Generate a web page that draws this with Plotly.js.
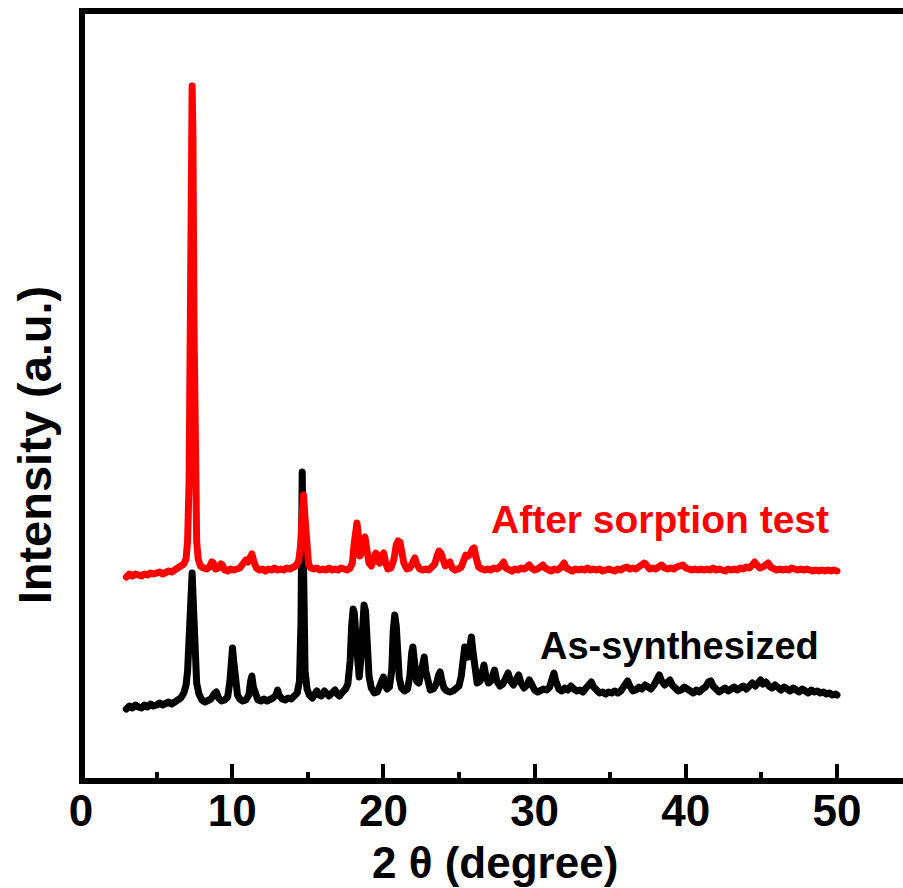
<!DOCTYPE html>
<html>
<head>
<meta charset="utf-8">
<script src="https://cdn.plot.ly/plotly-3.0.1.min.js"></script>
<style>
html,body{margin:0;padding:0;background:#fff;overflow:hidden}
#chart{width:903px;height:888px}
path.js-line{stroke-linejoin:round;stroke-linecap:round}
</style>
</head>
<body>
<div id="chart"></div>
<script>
// As-synthesized pattern (2θ in degrees, intensity in arbitrary units)
const asSynthX = [3.0,3.2,3.4,3.6,3.8,4.0,4.2,4.4,4.6,4.8,5.0,5.2,5.4,5.6,5.8,6.0,6.2,6.4,6.6,6.8,6.95,7.05,7.15,7.25,7.35,7.45,7.55,7.65,7.8,8.0,8.2,8.4,8.6,8.8,8.95,9.1,9.3,9.5,9.7,9.85,9.95,10.02,10.1,10.2,10.35,10.5,10.7,10.9,11.1,11.22,11.3,11.4,11.55,11.7,11.9,12.1,12.3,12.5,12.7,12.9,13.0,13.1,13.3,13.5,13.7,13.9,14.1,14.3,14.45,14.55,14.63,14.72,14.82,14.95,15.1,15.3,15.5,15.6,15.75,15.9,16.1,16.25,16.4,16.6,16.8,16.95,17.1,17.3,17.5,17.65,17.8,17.9,18.0,18.08,18.2,18.3,18.4,18.5,18.62,18.72,18.82,18.95,19.05,19.2,19.4,19.6,19.8,19.92,20.0,20.1,20.25,20.4,20.55,20.65,20.75,20.85,20.95,21.05,21.2,21.4,21.6,21.75,21.87,21.95,22.05,22.2,22.35,22.5,22.62,22.7,22.8,22.95,23.1,23.3,23.5,23.65,23.75,23.85,24.0,24.2,24.4,24.6,24.8,25.0,25.15,25.28,25.38,25.48,25.6,25.72,25.82,25.92,26.05,26.2,26.4,26.55,26.65,26.78,26.95,27.1,27.25,27.35,27.5,27.7,27.9,28.1,28.25,28.4,28.6,28.8,28.95,29.1,29.3,29.5,29.65,29.8,30.0,30.2,30.4,30.6,30.8,31.0,31.15,31.28,31.4,31.6,31.8,32.0,32.2,32.4,32.6,32.8,33.0,33.2,33.4,33.6,33.75,33.9,34.1,34.3,34.5,34.7,34.9,35.1,35.3,35.5,35.7,35.9,36.05,36.15,36.3,36.5,36.7,36.9,37.1,37.3,37.5,37.7,37.9,38.1,38.25,38.4,38.6,38.8,38.95,39.1,39.3,39.5,39.7,39.9,40.1,40.3,40.5,40.7,40.9,41.1,41.3,41.5,41.65,41.8,42.0,42.2,42.4,42.6,42.8,43.0,43.2,43.4,43.6,43.8,44.0,44.2,44.4,44.6,44.8,44.95,45.1,45.3,45.5,45.7,45.9,46.1,46.3,46.5,46.7,46.9,47.1,47.3,47.5,47.7,47.9,48.1,48.3,48.5,48.7,48.9,49.1,49.3,49.5,49.7,49.9,50.0];
const asSynthY = [72,75,73,76,74,73,76,74,77,75,76,78,76,77,79,77,79,80,83,88,96,110,140,185,208,170,120,98,87,81,79,80,82,87,89,83,80,81,84,100,125,133,120,98,86,82,80,81,86,100,105,94,85,81,80,82,80,81,83,86,91,86,82,81,83,82,84,88,100,160,309,200,110,92,86,83,87,90,86,85,90,88,85,88,91,87,85,89,92,97,120,155,172,168,140,108,104,120,160,176,170,130,105,93,88,89,96,103,104,96,92,94,110,150,166,155,125,103,93,90,92,105,128,134,120,100,98,110,122,124,110,96,91,92,97,106,109,102,93,90,89,90,92,95,105,128,134,128,124,135,144,130,108,98,100,112,116,105,98,100,108,111,100,95,97,104,108,100,96,102,106,98,93,96,101,97,91,89,90,92,91,94,102,108,100,92,90,93,91,95,92,90,91,89,93,96,99,94,90,88,89,87,89,88,90,88,90,94,98,100,95,90,91,94,92,96,94,92,96,101,106,100,96,99,101,96,92,90,91,94,92,90,88,91,89,92,94,99,100,95,91,89,91,93,90,92,94,91,93,95,92,96,98,95,99,101,97,99,95,93,96,93,91,94,92,90,93,91,89,92,90,88,91,89,90,88,89,87,88,86,87,86];

// After sorption test pattern
const afterX = [3.0,3.2,3.4,3.6,3.8,4.0,4.2,4.4,4.6,4.8,5.0,5.2,5.4,5.6,5.8,6.0,6.2,6.4,6.6,6.8,6.95,7.05,7.15,7.22,7.3,7.35,7.4,7.48,7.55,7.65,7.75,7.9,8.1,8.3,8.5,8.65,8.75,8.9,9.1,9.25,9.35,9.5,9.7,9.9,10.1,10.3,10.5,10.7,10.9,11.05,11.2,11.3,11.42,11.6,11.8,12.0,12.2,12.4,12.6,12.8,13.0,13.2,13.4,13.6,13.8,14.0,14.2,14.4,14.52,14.62,14.72,14.82,14.92,15.05,15.2,15.4,15.6,15.8,16.0,16.2,16.4,16.6,16.8,17.0,17.2,17.4,17.6,17.8,17.95,18.05,18.15,18.25,18.35,18.45,18.55,18.68,18.78,18.9,19.05,19.2,19.35,19.5,19.62,19.75,19.9,20.02,20.15,20.3,20.5,20.7,20.85,20.97,21.1,21.22,21.35,21.55,21.75,21.95,22.08,22.2,22.4,22.6,22.8,23.0,23.2,23.4,23.55,23.68,23.8,23.95,24.1,24.28,24.4,24.55,24.75,24.95,25.15,25.3,25.45,25.6,25.75,25.9,26.0,26.12,26.3,26.5,26.7,26.9,27.1,27.3,27.5,27.7,27.85,27.95,28.1,28.3,28.5,28.7,28.9,29.1,29.3,29.5,29.65,29.8,30.0,30.2,30.4,30.55,30.7,30.9,31.1,31.3,31.5,31.7,31.85,31.95,32.1,32.3,32.5,32.7,32.9,33.1,33.3,33.5,33.7,33.9,34.1,34.3,34.5,34.7,34.9,35.1,35.3,35.5,35.7,35.9,36.1,36.3,36.5,36.7,36.9,37.1,37.25,37.4,37.6,37.8,38.0,38.2,38.4,38.6,38.8,39.0,39.2,39.4,39.6,39.8,40.0,40.2,40.4,40.6,40.8,41.0,41.2,41.4,41.6,41.8,42.0,42.2,42.4,42.6,42.8,43.0,43.2,43.4,43.6,43.8,44.0,44.2,44.4,44.55,44.7,44.9,45.1,45.3,45.45,45.6,45.8,46.0,46.2,46.4,46.6,46.8,47.0,47.2,47.4,47.6,47.8,48.0,48.2,48.4,48.6,48.8,49.0,49.2,49.4,49.6,49.8,50.0];
const afterY = [204,207,205,207,206,205,207,206,208,207,208,209,207,209,210,209,211,212,214,217,222,240,300,450,640,695,650,450,300,240,222,215,213,212,214,219,218,212,213,217,216,211,210,212,211,212,213,217,221,219,225,227,220,213,211,212,210,212,211,213,211,212,211,213,212,213,215,220,235,262,286,262,230,217,213,212,213,211,212,211,213,211,212,211,213,212,211,213,218,235,252,258,245,225,228,242,244,232,218,215,222,228,220,218,226,228,218,212,213,222,236,240,239,230,218,212,213,219,223,217,212,211,212,211,213,217,225,230,228,220,215,218,219,213,211,212,214,220,226,225,227,232,233,224,214,212,211,212,211,213,212,214,218,219,213,211,210,212,211,213,212,214,216,213,211,212,214,216,213,211,210,212,211,213,217,218,213,211,210,212,211,212,211,213,211,212,211,212,210,211,212,211,210,212,211,213,214,212,213,212,214,215,218,216,212,213,212,214,216,213,212,213,212,214,215,216,213,212,211,212,211,212,211,212,211,213,211,212,211,210,212,211,212,211,213,212,214,213,216,219,216,213,214,217,218,214,212,211,212,211,212,211,213,212,211,212,211,212,211,210,211,210,211,210,211,210,211,210];

const xTickVals = [0,10,20,30,40,50];
const xTickText = ['0','10','20','30','40','50'];
const xMinorVals = [5,15,25,35,45];

const FONT = 'Liberation Sans, Arial, sans-serif';

const traces = [
  {x: asSynthX, y: asSynthY, type: 'scatter', mode: 'lines', name: 'As-synthesized',
   line: {color: '#000000', width: 7}, showlegend: false},
  {x: afterX, y: afterY, type: 'scatter', mode: 'lines', name: 'After sorption test',
   line: {color: '#ff0000', width: 7}, showlegend: false}
];

const layout = {
  width: 903, height: 888,
  margin: {l: 78, r: 0, t: 11, b: 107},
  paper_bgcolor: '#ffffff', plot_bgcolor: '#ffffff',
  xaxis: {
    range: [-0.198, 54.365], showgrid: false, zeroline: false, showline: false,
    ticks: 'inside', ticklen: 17, tickwidth: 4, tickcolor: '#000',
    tickvals: xTickVals, ticktext: xTickText,
    minor: {tickvals: xMinorVals, ticks: 'inside', ticklen: 9, tickwidth: 4, tickcolor: '#000'},
    tickfont: {family: FONT, size: 44, color: '#000', weight: 'bold'}
  },
  yaxis: {
    range: [0, 770], showgrid: false, zeroline: false, showline: false,
    ticks: '', showticklabels: false
  },
  shapes: [
    // frame: top, left and bottom spines (right side is cut off in the original)
    {type: 'path', xref: 'paper', yref: 'paper', layer: 'above',
     path: 'M 1.05,1 L 0.00485,1 L 0.00485,0 L 1.05,0',
     line: {color: '#000', width: 6}}
  ],
  annotations: [
    {text: '2 θ (degree)', xref: 'paper', yref: 'paper', x: 0.5055, y: -0.106,
     xanchor: 'center', yanchor: 'middle', showarrow: false,
     font: {family: FONT, size: 44, color: '#000', weight: 'bold'}},
    {text: 'Intensity (a.u.)', xref: 'paper', yref: 'paper', x: -0.0533, y: 0.436,
     xanchor: 'center', yanchor: 'middle', showarrow: false, textangle: -90,
     font: {family: FONT, size: 47, color: '#000', weight: 'bold'}},
    {text: 'After sorption test', xref: 'paper', yref: 'paper', x: 0.7055, y: 0.339,
     xanchor: 'center', yanchor: 'middle', showarrow: false,
     font: {family: FONT, size: 39, color: '#ff0000', weight: 'bold'}},
    {text: 'As-synthesized', xref: 'paper', yref: 'paper', x: 0.7285, y: 0.1753,
     xanchor: 'center', yanchor: 'middle', showarrow: false,
     font: {family: FONT, size: 38, color: '#000', weight: 'bold'}}
  ]
};

Plotly.newPlot('chart', traces, layout, {displayModeBar: false, staticPlot: true});
</script>
</body>
</html>
